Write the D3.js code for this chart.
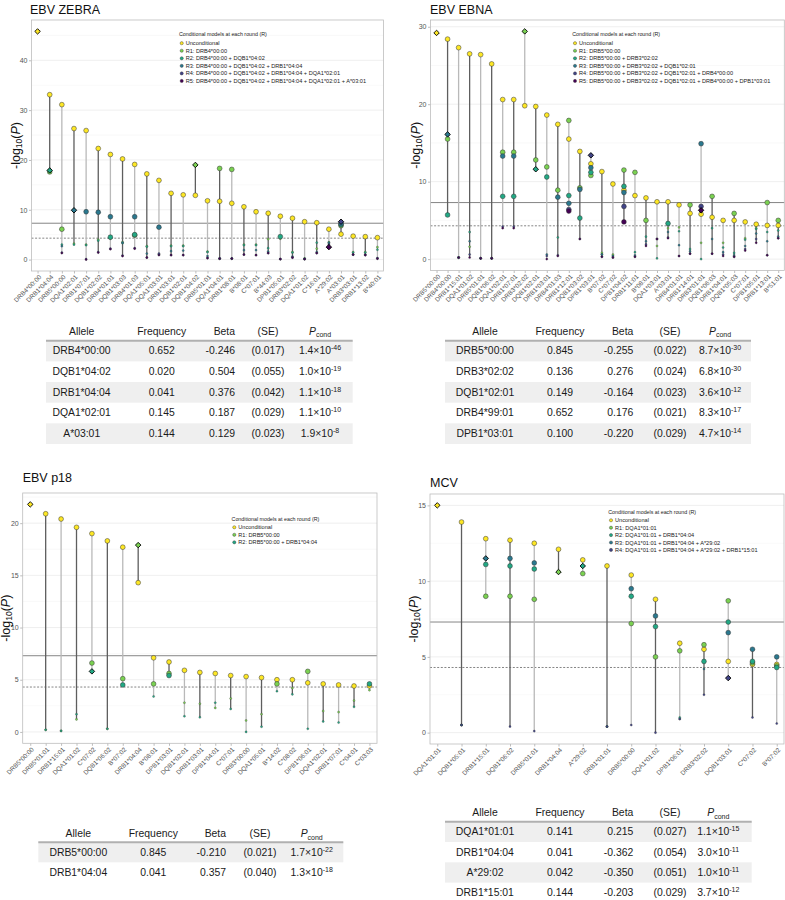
<!DOCTYPE html>
<html><head><meta charset="utf-8">
<script src="https://cdn.jsdelivr.net/npm/d3@7"></script>
<style>
body{margin:0;background:#fff}
svg{display:block}
text{font-family:"Liberation Sans",Arial,Helvetica,sans-serif}
</style>
</head><body>
<svg id="c" width="785" height="900"></svg>
<script>
// ---------------- DATA ----------------
const roundColors = ["#FDE725","#7AD151","#22A884","#2A788E","#414487","#440154"];
const genomeWideLine = 7.3;   // -log10(5e-8)
const suggestiveLine = 4.3;   // -log10(5e-5)

// EBV ZEBRA
const zebraAlleles = ["DRB4*00:00","DRB1*04:04","DRB5*00:00","DQA1*02:01","DRB1*07:01","DQB1*02:02","DRB4*01:01","DQB1*03:03","DRB4*01:03","DQA1*05:01","DQA1*03:01","DRB1*03:01","DQB1*02:01","DQB1*04:02","DRB5*01:01","DQA1*04:01","DRB1*08:01","B*08:01","C*07:01","B*44:03","DPB1*05:01","DRB3*02:02","DQA1*01:02","C*16:01","A*29:02","A*03:01","DRB3*03:01","DRB1*13:02","B*40:01"];
const zebraU  = [45.8,33.1,31.1,26.3,25.9,22.3,21.1,20.2,19.1,17.2,15.9,13.3,13.0,12.9,11.8,11.7,11.3,10.6,9.6,9.3,8.7,8.3,7.6,7.4,6.1,5.1,4.7,4.6,4.4];
const zebraR1 = [null,17.6,6.1,3.2,3.0,4.0,4.2,3.5,4.9,2.7,1.1,2.8,2.8,19.0,1.6,18.3,18.1,3.0,3.0,4.1,4.2,1.5,0.2,2.2,3.5,6.8,1.5,1.5,2.5];
const zebraR2 = [null,17.9,3.0,3.0,2.9,3.8,4.5,3.3,5.0,2.6,1.0,2.7,2.7,null,1.5,0.2,0.2,2.9,2.9,2.3,4.6,1.4,0.2,3.4,3.3,7.0,1.4,1.4,2.0];
const zebraR3 = [null,null,2.7,9.9,9.6,9.5,8.6,3.4,8.6,1.2,6.5,1.7,1.8,null,0.7,0.2,0.2,1.9,1.9,1.6,0.1,0.6,0.1,1.5,3.4,7.2,1.0,1.0,0.3];
const zebraR4 = [null,null,1.4,null,0.1,1.5,2.2,0.8,2.3,0.4,1.2,0.9,0.9,null,0.3,0.2,0.2,1.0,0.9,1.3,0.1,0.4,0.1,1.3,3.0,7.6,1.0,0.9,0.2];
const zebraR5 = [null,null,1.3,null,0.0,1.4,2.1,0.7,2.2,0.4,0.9,0.9,0.9,null,0.3,0.2,0.2,1.0,0.9,1.3,0.1,0.4,0.1,1.3,2.5,null,1.0,0.9,0.2];
const zebraSelected = ["DRB4*00:00","DQB1*04:02","DRB1*04:04","DQA1*02:01","A*03:01","A*29:02"];
const zebraTicks = [0,10,20,30,40];
const zebraTabAllele = ["DRB4*00:00","DQB1*04:02","DRB1*04:04","DQA1*02:01","A*03:01"];
const zebraTabFreq = ["0.652","0.020","0.041","0.145","0.144"];
const zebraTabBeta = ["-0.246","0.504","0.376","0.187","0.129"];
const zebraTabSE = ["(0.017)","(0.055)","(0.042)","(0.029)","(0.023)"];
const zebraTabPm = ["1.4","1.0","1.1","1.1","1.9"];
const zebraTabPe = ["-46","-19","-18","-10","-8"];

// EBV EBNA
const ebnaAlleles = ["DRB5*00:00","DRB4*00:00","DRB1*15:01","DQA1*01:02","DRB5*01:01","DQB1*06:02","DQA1*02:01","DRB1*07:01","DRB3*02:02","DQB1*02:01","DRB1*03:01","DRB4*01:03","DRB1*12:01","DQB1*03:02","DPB1*03:01","B*07:02","C*07:02","DPB1*04:02","DRB1*11:01","B*08:01","DQA1*03:01","A*03:01","DRB4*01:01","DRB1*14:01","DRB3*01:01","DQB1*06:03","DRB1*04:01","DQB1*05:03","C*07:01","DPB1*05:01","DRB1*13:01","B*51:01"];
const ebnaU  = [29.2,28.4,27.3,26.5,26.4,25.2,20.6,20.6,19.8,19.7,18.6,17.4,15.5,13.9,12.3,11.3,9.7,8.9,8.2,7.9,7.4,7.4,7.0,5.9,5.8,5.4,5.0,5.0,4.8,4.5,4.35,4.35];
const ebnaR1 = [null,15.5,0.2,1.6,0.1,0.1,13.8,13.8,29.4,12.8,11.9,8.9,17.9,9.2,10.8,0.8,0.6,11.5,11.2,5.0,1.7,4.0,4.1,7.0,2.1,8.1,2.1,5.9,2.7,4.0,7.3,5.0];
const ebnaR2 = [null,5.7,0.2,3.5,0.1,0.1,8.1,8.1,null,11.6,10.6,2.8,8.2,5.3,11.2,0.6,0.4,9.4,0.9,2.9,0.1,4.6,3.6,1.3,0.0,4.0,1.5,0.8,2.5,3.9,3.5,3.7];
const ebnaR3 = [null,16.1,0.2,2.3,0.1,0.1,13.3,13.3,null,null,0.6,8.0,7.2,9.0,11.8,0.6,0.4,8.6,0.5,2.3,2.6,3.5,1.8,1.0,14.9,2.6,0.9,0.5,1.7,3.3,2.3,2.9];
const ebnaR4 = [null,null,0.2,0.6,0.1,0.1,4.2,4.2,null,null,0.4,0.5,6.4,2.6,13.4,0.3,0.2,6.8,0.3,1.9,2.6,2.8,0.4,0.7,6.8,0.7,0.6,0.3,1.3,2.6,0.5,2.7];
const ebnaR5 = [null,null,0.2,0.2,0.1,0.1,4.0,4.0,null,null,0.0,0.4,6.2,2.6,null,0.3,0.2,4.8,0.3,1.7,2.6,2.7,0.4,0.7,6.3,0.7,0.4,0.3,1.1,2.1,0.5,2.7];
const ebnaSelected = ["DRB5*00:00","DRB3*02:02","DQB1*02:01","DRB4*00:00","DPB1*03:01","DRB3*01:01"];
const ebnaTicks = [0,10,20,30];
const ebnaTabAllele = ["DRB5*00:00","DRB3*02:02","DQB1*02:01","DRB4*99:01","DPB1*03:01"];
const ebnaTabFreq = ["0.845","0.136","0.149","0.652","0.100"];
const ebnaTabBeta = ["-0.255","0.276","-0.164","0.176","-0.220"];
const ebnaTabSE = ["(0.022)","(0.024)","(0.023)","(0.021)","(0.029)"];
const ebnaTabPm = ["8.7","6.8","3.6","8.3","4.7"];
const ebnaTabPe = ["-30","-30","-12","-17","-14"];

// EBV p18
const p18Alleles = ["DRB5*00:00","DRB5*01:01","DRB1*15:01","DQA1*01:02","C*07:02","DQB1*06:02","B*07:02","DRB1*04:04","B*08:01","DPB1*03:01","DQB1*02:01","DRB1*03:01","DPB1*04:01","C*07:01","DRB3*00:00","DQA1*05:01","B*14:02","C*08:02","DPB1*06:01","DQA1*02:01","DRB1*07:01","C*04:01","C*03:03"];
const p18U  = [21.8,20.9,20.4,19.6,19.0,18.3,17.7,14.3,7.1,6.7,5.9,5.7,5.6,5.4,5.3,5.2,5.0,5.0,4.7,4.6,4.5,4.4,4.4];
const p18R1 = [null,0.2,0.1,1.2,6.6,0.3,5.1,17.9,4.6,5.6,2.8,2.7,2.3,3.2,1.1,1.7,4.6,4.2,5.8,2.0,1.9,3.0,4.0];
const p18R2 = [null,0.2,0.1,1.7,5.8,0.3,4.5,null,3.4,5.4,1.5,1.4,2.8,2.2,0.0,0.5,3.9,3.6,0.3,1.0,0.9,2.4,4.6];
const p18Selected = ["DRB5*00:00","DRB1*04:04","C*07:02"];
const p18Ticks = [0,5,10,15,20];
const p18TabAllele = ["DRB5*00:00","DRB1*04:04"];
const p18TabFreq = ["0.845","0.041"];
const p18TabBeta = ["-0.210","0.357"];
const p18TabSE = ["(0.021)","(0.040)"];
const p18TabPm = ["1.7","1.3"];
const p18TabPe = ["-22","-18"];

// MCV
const mcvAlleles = ["DQA1*01:01","DQB1*05:01","DRB1*15:01","DQB1*06:02","DRB5*01:01","DRB1*04:04","A*29:02","DRB1*01:01","DRB5*00:00","DQA1*01:02","DPB1*06:01","DRB3*02:02","DQB1*03:01","C*07:02","B*07:02"];
const mcvU  = [15.0,13.9,12.8,12.7,12.5,12.1,11.4,11.0,10.4,8.8,5.9,5.5,4.7,4.5,4.5];
const mcvR1 = [null,0.5,9.0,9.0,8.8,10.6,10.5,0.4,7.2,5.0,5.4,5.8,8.7,4.6,4.4];
const mcvR2 = [null,0.5,11.1,11.0,10.8,null,11.0,0.4,9.0,7.0,1.0,4.7,7.3,4.7,4.3];
const mcvR3 = [null,0.5,11.5,11.5,11.2,null,null,0.4,9.5,7.7,0.9,4.2,6.6,5.5,5.0];
const mcvR4 = [null,0.5,null,0.4,0.1,null,null,0.4,0.5,0.0,0.9,2.5,3.6,1.0,0.6];
const mcvSelected = ["DQA1*01:01","DRB1*04:04","A*29:02","DRB1*15:01","DQB1*03:01"];
const mcvTicks = [0,5,10,15];
const mcvTabAllele = ["DQA1*01:01","DRB1*04:04","A*29:02","DRB1*15:01"];
const mcvTabFreq = ["0.141","0.041","0.042","0.144"];
const mcvTabBeta = ["0.215","-0.362","-0.350","-0.203"];
const mcvTabSE = ["(0.027)","(0.054)","(0.051)","(0.029)"];
const mcvTabPm = ["1.1","3.0","1.0","3.7"];
const mcvTabPe = ["-15","-11","-11","-12"];

const legendTitle = "Conditional models at each round (R)";
const tableHeaders = ["Allele","Frequency","Beta","(SE)"];

// ---------------- LAYOUT ----------------
const panels = [
  {title:"EBV ZEBRA", alleles:zebraAlleles, rounds:[zebraU,zebraR1,zebraR2,zebraR3,zebraR4,zebraR5], selected:zebraSelected, ticks:zebraTicks,
   tab:[zebraTabAllele,zebraTabFreq,zebraTabBeta,zebraTabSE,zebraTabPm,zebraTabPe],
   L:{x0:31.5,x1:383.5,y0:20,y1:271,pad:0.5,titleX:30,titleY:13.5,yTitleX:16,legX:181.7,legTitleY:34,legY:43.2,legStep:7.55,
      t:{headY:331,lineY:340.7,lx0:46,lx1:352.7,rowH:20.65,cA:81.7,cF:161.7,cB:235,cS:268,cP:320}}},
  {title:"EBV EBNA", alleles:ebnaAlleles, rounds:[ebnaU,ebnaR1,ebnaR2,ebnaR3,ebnaR4,ebnaR5], selected:ebnaSelected, ticks:ebnaTicks,
   tab:[ebnaTabAllele,ebnaTabFreq,ebnaTabBeta,ebnaTabSE,ebnaTabPm,ebnaTabPe],
   L:{x0:430.5,x1:784.3,y0:20,y1:270.5,pad:0.55,titleX:430,titleY:13.5,yTitleX:416,legX:575,legTitleY:34,legY:43.2,legStep:7.55,
      t:{headY:331,lineY:340.7,lx0:445,lx1:751,rowH:20.65,cA:485,cF:560,cB:633.3,cS:670,cP:720}}},
  {title:"EBV p18", alleles:p18Alleles, rounds:[p18U,p18R1,p18R2], selected:p18Selected, ticks:p18Ticks,
   tab:[p18TabAllele,p18TabFreq,p18TabBeta,p18TabSE,p18TabPm,p18TabPe],
   L:{x0:22.7,x1:377,y0:493,y1:743.3,pad:0.49,titleX:22.7,titleY:482,yTitleX:6,legX:234.3,legTitleY:518.7,legY:527.3,legStep:7.5,
      t:{headY:833.3,lineY:842.3,lx0:38.3,lx1:343.3,rowH:20,cA:78.3,cF:153.3,cB:226,cS:260,cP:311.7}}},
  {title:"MCV", alleles:mcvAlleles, rounds:[mcvU,mcvR1,mcvR2,mcvR3,mcvR4], selected:mcvSelected, ticks:mcvTicks,
   tab:[mcvTabAllele,mcvTabFreq,mcvTabBeta,mcvTabSE,mcvTabPm,mcvTabPe],
   L:{x0:430,x1:784,y0:494,y1:744,pad:0.3,titleX:430,titleY:486.5,yTitleX:414,legX:611,legTitleY:511.7,legY:520.3,legStep:7.4,
      t:{headY:812.7,lineY:821.7,lx0:445,lx1:751.7,rowH:20.3,cA:485,cF:560,cB:633.3,cS:670,cP:718.3}}}
];

const svg = d3.select("#c");

function drawPanel(P){
  const L = P.L;
  const g = svg.append("g");
  const all = P.rounds.flat().filter(v => v != null);
  const lo = Math.min(0, d3.min(all)), hi = d3.max(all), span = hi - lo;
  const y = d3.scaleLinear().domain([lo - 0.05*span, hi + 0.05*span]).range([L.y1, L.y0]);
  const x = d3.scalePoint().domain(P.alleles).range([L.x0, L.x1]).padding(L.pad);

  // title
  g.append("text").attr("x", L.titleX).attr("y", L.titleY).attr("font-size", 12.5).attr("fill", "#111").text(P.title);

  // grid
  const step = P.ticks[1] - P.ticks[0];
  const dom = y.domain();
  const minor = [];
  for (let v = P.ticks[0] - step/2; v <= dom[1]; v += step) if (v >= dom[0]) minor.push(v);
  g.append("g").selectAll("line").data(minor).join("line")
    .attr("x1", L.x0).attr("x2", L.x1).attr("y1", d => y(d)).attr("y2", d => y(d))
    .attr("stroke", "#f1f1f1").attr("stroke-width", 0.4);
  g.append("g").selectAll("line").data(P.ticks).join("line")
    .attr("x1", L.x0).attr("x2", L.x1).attr("y1", d => y(d)).attr("y2", d => y(d))
    .attr("stroke", "#e4e4e4").attr("stroke-width", 0.6);

  // threshold lines
  g.append("line").attr("x1", L.x0).attr("x2", L.x1).attr("y1", y(genomeWideLine)).attr("y2", y(genomeWideLine))
    .attr("stroke", "#666").attr("stroke-width", 0.8);
  g.append("line").attr("x1", L.x0).attr("x2", L.x1).attr("y1", y(suggestiveLine)).attr("y2", y(suggestiveLine))
    .attr("stroke", "#666").attr("stroke-width", 0.8).attr("stroke-dasharray", "2,1.6");

  // per-allele records
  const recs = P.alleles.map((a, i) => {
    const sel = P.selected.indexOf(a);
    const pts = [];
    P.rounds.forEach((arr, k) => { if (arr[i] != null && (sel < 0 || k <= sel)) pts.push({k, v: arr[i]}); });
    return {a, i, sel, pts};
  });

  // vertical segments
  const segG = g.append("g");
  recs.forEach(r => {
    if (r.pts.length < 2) return;
    const ext = d3.extent(r.pts, p => p.v);
    segG.append("line").attr("x1", x(r.a)).attr("x2", x(r.a)).attr("y1", y(ext[0])).attr("y2", y(ext[1]))
      .attr("stroke", r.i % 2 === 1 ? "#5e5e5e" : "#b9b9b9").attr("stroke-width", 1.3);
  });

  // points
  const ptG = g.append("g");
  P.rounds.forEach((arr, k) => {
    recs.forEach(r => {
      const p = r.pts.find(q => q.k === k);
      if (!p || r.sel === k) return;
      const big = p.v >= suggestiveLine;
      ptG.append("circle").attr("cx", x(r.a)).attr("cy", y(p.v)).attr("r", big ? 2.4 : 1.05)
        .attr("fill", roundColors[k]).attr("stroke", "#333").attr("stroke-width", big ? 0.5 : 0.3);
    });
  });
  recs.forEach(r => {
    if (r.sel < 0) return;
    const p = r.pts.find(q => q.k === r.sel);
    if (!p) return;
    ptG.append("path").attr("d", d3.symbol(d3.symbolDiamond2, 19)())
      .attr("transform", `translate(${x(r.a)},${y(p.v)})`)
      .attr("fill", roundColors[r.sel]).attr("stroke", "#000").attr("stroke-width", 0.9);
  });

  // border
  g.append("rect").attr("x", L.x0).attr("y", L.y0).attr("width", L.x1 - L.x0).attr("height", L.y1 - L.y0)
    .attr("fill", "none").attr("stroke", "#bdbdbd").attr("stroke-width", 0.8);

  // axes
  const ya = g.append("g").attr("transform", `translate(${L.x0},0)`)
    .call(d3.axisLeft(y).tickValues(P.ticks).tickSize(2.5).tickPadding(1.5));
  ya.select(".domain").remove();
  ya.selectAll(".tick line").attr("stroke", "#bdbdbd");
  ya.selectAll(".tick text").attr("font-size", 7).attr("fill", "#555").attr("font-family", "Liberation Sans, Arial, sans-serif");

  const xa = g.append("g").attr("transform", `translate(0,${L.y1})`)
    .call(d3.axisBottom(x).tickSize(2.5).tickSizeOuter(0));
  xa.select(".domain").remove();
  xa.selectAll(".tick line").attr("stroke", "#bdbdbd");
  xa.selectAll(".tick text").attr("font-size", 6.4).attr("fill", "#555")
    .attr("font-family", "Liberation Sans, Arial, sans-serif")
    .attr("x", 0).attr("y", 0).attr("dy", "0.35em").attr("text-anchor", "end")
    .attr("transform", "translate(2,5) rotate(-45)");

  // y title
  const yt = g.append("text").attr("transform", `translate(${L.yTitleX},${(L.y0 + L.y1)/2}) rotate(-90)`)
    .attr("text-anchor", "middle").attr("dominant-baseline", "central").attr("font-size", 12.5).attr("fill", "#111");
  yt.append("tspan").text("-log");
  yt.append("tspan").attr("font-size", 8.5).attr("dy", 3).text("10");
  yt.append("tspan").attr("dy", -3).text("(");
  yt.append("tspan").attr("font-style", "italic").text("P");
  yt.append("tspan").text(")");

  // legend
  const lg = g.append("g");
  lg.append("text").attr("x", L.legX - 2.7).attr("y", L.legTitleY).attr("dominant-baseline", "central")
    .attr("font-size", 5.3).attr("fill", "#222").text(legendTitle);
  P.rounds.forEach((arr, k) => {
    const label = k === 0 ? "Unconditional" : `R${k}: ` + P.selected.slice(0, k).join(" + ");
    const yy = L.legY + k * L.legStep;
    lg.append("circle").attr("cx", L.legX).attr("cy", yy).attr("r", 1.6)
      .attr("fill", roundColors[k]).attr("stroke", "#333").attr("stroke-width", 0.4);
    lg.append("text").attr("x", L.legX + 4).attr("y", yy).attr("dominant-baseline", "central")
      .attr("font-size", 5.6).attr("fill", "#222").text(label);
  });

  // table
  drawTable(g, P.tab, L.t);
}

function drawTable(g, tab, T){
  const [al, fr, be, se, pm, pe] = tab;
  const tg = g.append("g").attr("font-size", 10.4).attr("fill", "#1a1a1a");
  al.forEach((d, i) => {
    if (i % 2 === 0) tg.append("rect").attr("x", T.lx0).attr("y", T.lineY + i*T.rowH).attr("width", T.lx1 - T.lx0)
      .attr("height", T.rowH).attr("fill", "#efefef");
  });
  tg.append("line").attr("x1", T.lx0).attr("x2", T.lx1).attr("y1", T.lineY).attr("y2", T.lineY)
    .attr("stroke", "#b0b0b0").attr("stroke-width", 2);
  const hb = T.headY + 3.7;
  tg.append("text").attr("x", T.cA).attr("y", hb).attr("text-anchor", "middle").text(tableHeaders[0]);
  tg.append("text").attr("x", T.cF).attr("y", hb).attr("text-anchor", "middle").text(tableHeaders[1]);
  tg.append("text").attr("x", T.cB).attr("y", hb).attr("text-anchor", "end").text(tableHeaders[2]);
  tg.append("text").attr("x", T.cS).attr("y", hb).attr("text-anchor", "middle").text(tableHeaders[3]);
  const ph = tg.append("text").attr("x", T.cP).attr("y", hb).attr("text-anchor", "middle");
  ph.append("tspan").attr("font-style", "italic").text("P");
  ph.append("tspan").attr("font-size", 7).attr("dy", 2.5).text("cond");

  al.forEach((d, i) => {
    const b = T.lineY + 10 + i*T.rowH + 3.7;
    tg.append("text").attr("x", T.cA).attr("y", b).attr("text-anchor", "middle").text(d);
    tg.append("text").attr("x", T.cF).attr("y", b).attr("text-anchor", "middle").text(fr[i]);
    tg.append("text").attr("x", T.cB).attr("y", b).attr("text-anchor", "end").text(be[i]);
    tg.append("text").attr("x", T.cS).attr("y", b).attr("text-anchor", "middle").text(se[i]);
    const pt = tg.append("text").attr("x", T.cP).attr("y", b).attr("text-anchor", "middle");
    pt.append("tspan").text(pm[i] + "\u00d710");
    pt.append("tspan").attr("font-size", 7).attr("dy", -4).text(pe[i]);
  });
}

panels.forEach(drawPanel);
</script>
</body></html>
